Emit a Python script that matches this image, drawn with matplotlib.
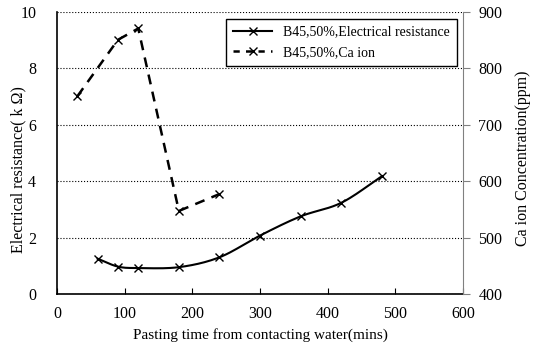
import numpy as np
from matplotlib import pyplot as plt

plt.rcParams['font.family'] = ['Liberation Serif', 'DejaVu Serif']

time_res = [60, 90, 120, 180, 240, 300, 360, 420, 480]
resistance = [1.25, 0.97, 0.92, 0.95, 1.3, 2.07, 2.75, 3.23, 4.17]
time_ca = [30, 90, 120, 180, 240]
ca_ion = [750, 850, 870, 547, 577]


def smooth(x, y, n=20):
    # catmull-rom curve through the points, like excel's smoothed line
    x = np.asarray(x, float)
    y = np.asarray(y, float)
    px = np.concatenate([[2 * x[0] - x[1]], x, [2 * x[-1] - x[-2]]])
    py = np.concatenate([[2 * y[0] - y[1]], y, [2 * y[-1] - y[-2]]])
    t = np.linspace(0, 1, n)
    xs, ys = [], []
    for i in range(1, len(px) - 2):
        for p, out in ((px, xs), (py, ys)):
            p0, p1, p2, p3 = p[i - 1], p[i], p[i + 1], p[i + 2]
            out.extend(0.5 * (2 * p1 + (-p0 + p2) * t
                              + (2 * p0 - 5 * p1 + 4 * p2 - p3) * t ** 2
                              + (-p0 + 3 * p1 - 3 * p2 + p3) * t ** 3))
    return xs, ys


fig = plt.figure(figsize=(5.33, 3.5), dpi=100)
ax = fig.add_axes([0.107, 0.16, 0.762, 0.807])
ax2 = ax.twinx()

sx, sy = smooth(time_res, resistance)
ax.plot(sx, sy, color='black', lw=1.5)
ax.plot(time_res, resistance, ls='none', marker='x', color='black', ms=6, mew=1)
ax2.plot(time_ca, ca_ion, color='black', lw=1.8, ls=(0, (4, 3)),
         marker='x', ms=6, mew=1)

ax.set_xlim(0, 600)
ax.set_ylim(0, 10)
ax2.set_ylim(400, 900)
ax.set_xticks(range(0, 601, 100))
ax.set_yticks(range(0, 11, 2))
ax2.set_yticks(range(400, 901, 100))

ax.yaxis.grid(True, ls=':', color='black', lw=0.8)
ax.set_axisbelow(True)

for a in (ax, ax2):
    a.spines['top'].set_visible(False)
ax.spines['right'].set_visible(False)
ax2.spines['left'].set_visible(False)
ax2.spines['bottom'].set_visible(False)
ax2.spines['right'].set_color('gray')
ax.spines['left'].set_linewidth(1.2)
ax.spines['bottom'].set_linewidth(1.2)

ax.tick_params(axis='x', direction='in', length=4, labelsize=11.5, pad=9)
ax.tick_params(axis='y', length=0, labelsize=11.5, pad=15)
ax2.tick_params(axis='y', direction='out', length=5, color='gray', labelsize=11.5, pad=6)

ax.set_xlabel('Pasting time from contacting water(mins)', fontsize=11, labelpad=4)
ax.set_ylabel('Electrical resistance( k \u03a9)', fontsize=11.5)
ax2.set_ylabel('Ca ion Concentration(ppm)', fontsize=11.5)
ax.yaxis.set_label_coords(-0.075, 0.44)
ax2.yaxis.set_label_coords(1.128, 0.48)

h1, = ax.plot([], [], color='black', lw=1.5, marker='x', ms=6)
h2, = ax.plot([], [], color='black', lw=1.8, ls=(0, (2.5, 2.5)), marker='x', ms=6)
leg = ax2.legend([h1, h2], ['B45,50%,Electrical resistance', 'B45,50%,Ca ion'],
                 loc='upper right', bbox_to_anchor=(0.985, 0.975), borderaxespad=0,
                 fontsize=10, fancybox=False, edgecolor='black', framealpha=1,
                 handlelength=2.8, borderpad=0.5, labelspacing=0.55)
leg.get_frame().set_linewidth(1.0)

plt.savefig('out.png', dpi=100)
